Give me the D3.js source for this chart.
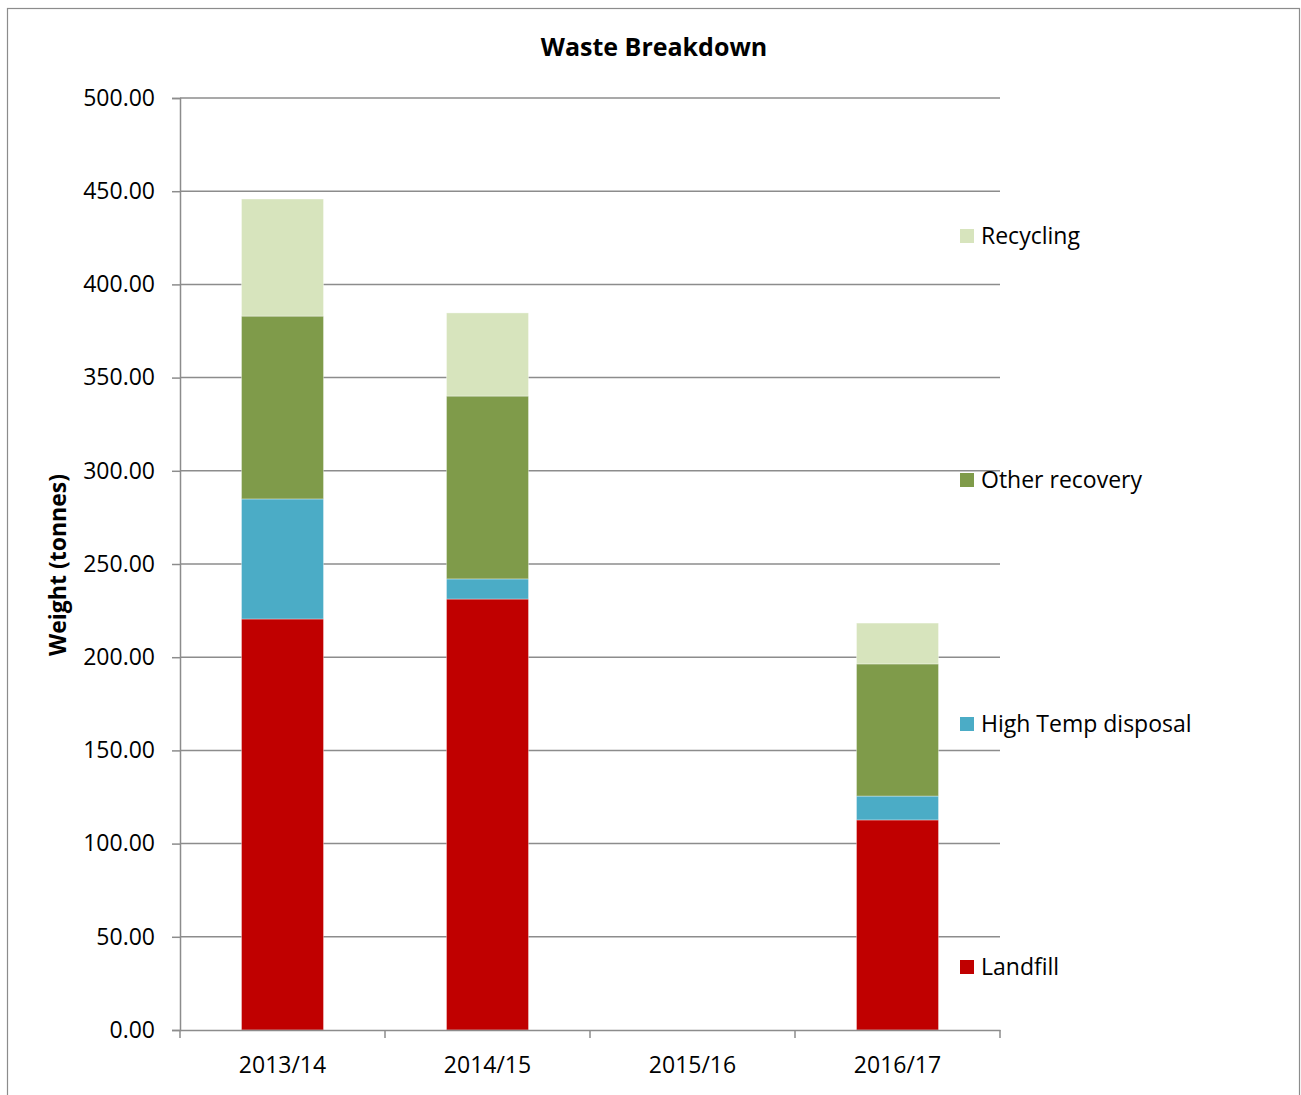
<!DOCTYPE html>
<html>
<head>
<meta charset="utf-8">
<script src="https://cdn.jsdelivr.net/npm/d3@7"></script>
<style>
  html, body { margin: 0; padding: 0; background: #fff; }
  svg { display: block; }
  text { font-family: "Open Sans", Lato, "Liberation Sans", sans-serif; fill: #000; }
</style>
</head>
<body>
<svg id="chart" width="1301" height="1095"></svg>
<script>
// Waste breakdown by financial year (tonnes)
const years = ["2013/14", "2014/15", "2015/16", "2016/17"];
const seriesNames = ["Landfill", "High Temp disposal", "Other recovery", "Recycling"];
const landfill = [220.5, 231.2, 0, 112.7];
const highTemp = [64.4, 10.8, 0, 12.8];
const otherRecovery = [98.1, 98.1, 0, 70.9];
const recycling = [62.8, 44.6, 0, 21.9];
const yTicks = [0, 50, 100, 150, 200, 250, 300, 350, 400, 450, 500];
const colors = ["#c00000", "#4bacc6", "#7f9b4a", "#d7e4bd"];

const FONT = "'Open Sans', Lato, sans-serif";

const rows = years.map((y, i) => ({
  year: y,
  "Landfill": landfill[i],
  "High Temp disposal": highTemp[i],
  "Other recovery": otherRecovery[i],
  "Recycling": recycling[i]
}));

const svg = d3.select("#chart");
const margin = { left: 180, right: 1000, top: 98, bottom: 1030 };

// Outer frame
svg.append("rect")
  .attr("x", 7.5).attr("y", 8.5).attr("width", 1292).attr("height", 1100)
  .attr("fill", "none").attr("stroke", "#8c8c8c").attr("stroke-width", 1.2);

const x = d3.scaleBand().domain(years).range([margin.left, margin.right]).paddingInner(0).paddingOuter(0);
const y = d3.scaleLinear().domain([0, 500]).range([margin.bottom, margin.top]);

// Gridlines
svg.append("g").selectAll("line").data(yTicks.filter(t => t > 0)).join("line")
  .attr("x1", margin.left).attr("x2", margin.right)
  .attr("y1", d => y(d)).attr("y2", d => y(d))
  .attr("stroke", "#8c8c8c").attr("stroke-width", 1.5);

// Stacked bars
const stack = d3.stack().keys(seriesNames)(rows);
const barW = x.bandwidth() * 0.4;
svg.append("g").selectAll("g").data(stack).join("g")
  .attr("fill", (d, i) => colors[i])
  .selectAll("rect").data(d => d.filter(s => s[1] - s[0] > 0)).join("rect")
  .attr("x", d => x(d.data.year) + (x.bandwidth() - barW) / 2)
  .attr("width", barW)
  .attr("y", d => y(d[1]))
  .attr("height", d => y(d[0]) - y(d[1]))
  .attr("stroke", "rgba(255,255,255,0.35)").attr("stroke-width", 1);

// Y axis
const yAxis = d3.axisLeft(y).tickValues(yTicks).tickFormat(d3.format(".2f")).tickSize(8).tickPadding(17);
const gy = svg.append("g").attr("transform", `translate(${margin.left},0)`).call(yAxis);
gy.select(".domain").attr("stroke", "#8c8c8c").attr("stroke-width", 1.5);
gy.selectAll(".tick line").attr("stroke", "#8c8c8c").attr("stroke-width", 1.5);
gy.selectAll(".tick text").attr("font-size", 23).attr("font-family", FONT).attr("fill", "#000");

// X axis
const xAxis = d3.axisBottom(x).tickSize(0).tickPadding(27);
const gx = svg.append("g").attr("transform", `translate(0,${margin.bottom})`).call(xAxis);
gx.select(".domain").attr("stroke", "#8c8c8c").attr("stroke-width", 1.5);
gx.selectAll(".tick text").attr("font-size", 23).attr("font-family", FONT).attr("fill", "#000");
// Category boundary ticks
const bounds = years.map(d => x(d)).concat([margin.right]);
svg.append("g").selectAll("line").data(bounds).join("line")
  .attr("x1", d => d).attr("x2", d => d)
  .attr("y1", margin.bottom).attr("y2", margin.bottom + 8)
  .attr("stroke", "#8c8c8c").attr("stroke-width", 1.5);

// Title
svg.append("text").attr("x", 654).attr("y", 56).attr("text-anchor", "middle")
  .attr("font-size", 25).attr("font-weight", "bold").text("Waste Breakdown");

// Y axis title
svg.append("text").attr("transform", "translate(66,565) rotate(-90)")
  .attr("text-anchor", "middle").attr("font-size", 23).attr("font-weight", "bold")
  .text("Weight (tonnes)");

// Legend (top-down: Recycling ... Landfill)
const legendY = [236, 480, 724, 967];
const legendItems = seriesNames.slice().reverse();
const lg = svg.append("g").selectAll("g").data(legendItems).join("g")
  .attr("transform", (d, i) => `translate(960,${legendY[i]})`);
lg.append("rect").attr("x", 0).attr("y", -7).attr("width", 14).attr("height", 14)
  .attr("fill", d => colors[seriesNames.indexOf(d)]);
lg.append("text").attr("x", 21).attr("y", 8).attr("font-size", 23).text(d => d);
</script>
</body>
</html>
